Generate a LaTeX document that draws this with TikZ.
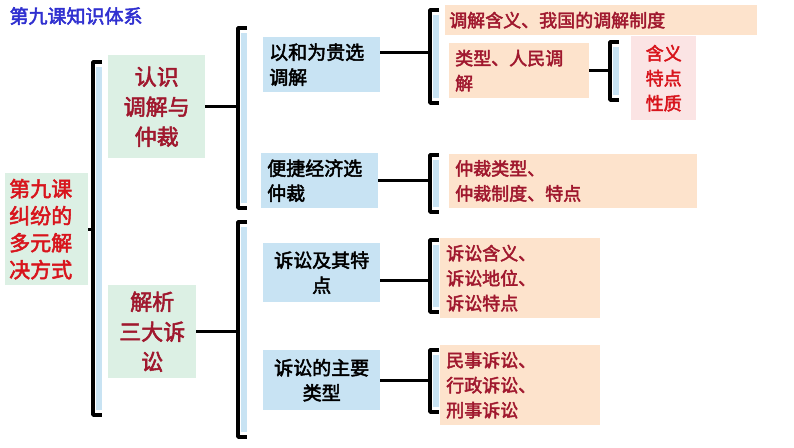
\documentclass[tikz,border=0pt]{standalone}
\usepackage{fontspec}
\setmainfont{Noto Sans CJK SC}[FakeBold=2.5]
\definecolor{rootGreen}{HTML}{DCF0E4}
\definecolor{midBlue}{HTML}{C8E3F3}
\definecolor{leafOrange}{HTML}{FDE3CC}
\definecolor{leafPink}{HTML}{FBE4E4}
\definecolor{darkRed}{HTML}{A0182E}
\definecolor{brightRed}{HTML}{D8141C}
\definecolor{titleBlue}{HTML}{3030D0}
\newcommand{\brkt}[4]{%% x, top, bottom, name
  \fill[midBlue] (#1+3,#2+5) rectangle (#1+9,#3-5);
  \draw[bracketStyle] (#1+9,#2) -- (#1,#2) -- (#1,#3) -- (#1+9,#3);
  \coordinate (#4) at (#1,{(#2+#3)/2});
}
\begin{document}
\begin{tikzpicture}[x=1pt,y=-1pt,%%
  boxStyle/.style={anchor=north west,inner sep=6pt,align=left},%%
  rootBox/.style={boxStyle,fill=rootGreen,text=brightRed,font=\fontsize{21}{27}\selectfont},%%
  topicBox/.style={boxStyle,fill=rootGreen,text=darkRed,align=center,font=\fontsize{22}{30}\selectfont},%%
  midBox/.style={boxStyle,fill=midBlue,text=black,font=\fontsize{19}{25}\selectfont},%%
  leafBox/.style={boxStyle,fill=leafOrange,text=darkRed,font=\fontsize{18}{25}\selectfont},%%
  pinkBox/.style={boxStyle,fill=leafPink,text=brightRed,font=\fontsize{18}{25}\selectfont},%%
  bracketStyle/.style={line width=3.5pt,line join=round},%%
  linkStyle/.style={line width=3pt}
]
\useasboundingbox (0,0) rectangle (794,447);
%%
%% Title.
\node (title) at (6,16) [anchor=west,text=titleBlue,font=\fontsize{19}{22}\selectfont] {第九课知识体系};
%%
%% Root and topics.
\node (root) at (5,173) [rootBox,text width=75,minimum height=112,inner sep=4pt] {第九课\\纠纷的\\多元解\\决方式};
\node (med) at (108,55) [topicBox,text width=89,minimum height=103,inner sep=4pt] {认识\\调解与\\仲裁};
\node (lit) at (108,285) [topicBox,text width=80,minimum height=93,inner sep=4pt] {解析\\三大诉\\讼};
%%
%% Middle level.
\node (choose) at (263,37) [midBox,text width=105,minimum height=55] {以和为贵选\\调解};
\node (arbit) at (261,153) [midBox,text width=105,minimum height=55] {便捷经济选\\仲裁};
\node (suit) at (263,243) [midBox,text width=105,minimum height=59,align=center] {诉讼及其特\\点};
\node (kinds) at (263,350) [midBox,text width=105,minimum height=60,align=center] {诉讼的主要\\类型};
%%
%% Leaves.
\node (meaning) at (445,5) [leafBox,text width=304,minimum height=30,inner sep=4pt] {调解含义、我国的调解制度};
\node (people) at (449,43) [leafBox,text width=128,minimum height=55,inner sep=6pt] {类型、人民调\\解};
\node (traits) at (631,36) [pinkBox,text width=59,minimum height=84,align=center,inner sep=3pt] {含义\\特点\\性质};
\node (arbKind) at (449,154) [leafBox,text width=236,minimum height=49,inner sep=6pt] {仲裁类型、\\仲裁制度、特点};
\node (suitPos) at (440,238) [leafBox,text width=148,minimum height=80,inner sep=6pt] {诉讼含义、\\诉讼地位、\\诉讼特点};
\node (suitKind) at (440,345) [leafBox,text width=148,minimum height=80,inner sep=6pt] {民事诉讼、\\行政诉讼、\\刑事诉讼};
%%
%% Brackets.
\brkt{93}{62}{415}{bA}
\brkt{238}{28}{208}{bB}
\brkt{238}{222}{437}{bC}
\brkt{430}{10}{103}{bD}
\brkt{430}{155}{212}{bE}
\brkt{430}{240}{312}{bF}
\brkt{430}{350}{412}{bG}
\brkt{610}{42}{100}{bH}
%%
%% Links from each node to its bracket.
\coordinate (chooseOut) at ([yshift=12pt]choose.east);
\coordinate (suitOut) at ([yshift=-8pt]suit.east);
\draw[linkStyle] (root.east) -- (root.east -| bA);
\draw[linkStyle] (med.east) -- (med.east -| bB);
\draw[linkStyle] (lit.east) -- (lit.east -| bC);
\draw[linkStyle] (chooseOut) -- (chooseOut -| bD);
\draw[linkStyle] (arbit.east) -- (arbit.east -| bE);
\draw[linkStyle] (suitOut) -- (suitOut -| bF);
\draw[linkStyle] (kinds.east) -- (kinds.east -| bG);
\draw[linkStyle] (people.east) -- (people.east -| bH);
\end{tikzpicture}
\end{document}
